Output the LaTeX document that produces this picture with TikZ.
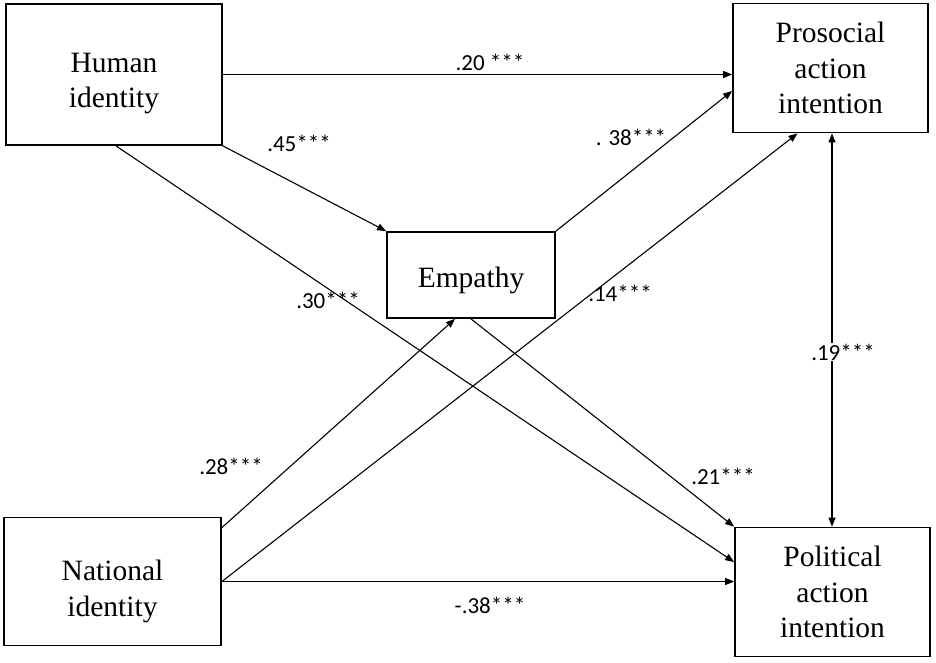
\documentclass[tikz,border=0pt]{standalone}
\usepackage{fontspec}
\setmainfont{Liberation Serif}
\newfontfamily\calibri{Carlito}
\usetikzlibrary{arrows.meta}

\begin{document}
\begin{tikzpicture}[x=1pt,y=-1pt,
        box/.style={shape=rectangle,draw=black,line width=1.8pt},
        boxtext/.style={align=center,font=\fontsize{29.5}{35.5}\selectfont},
        link/.style={line width=1.1pt,-{Triangle[length=9pt,width=7pt]}},
        coef/.style={font=\calibri\fontsize{23}{27}\selectfont,inner sep=1pt}]
        \useasboundingbox (0,0) rectangle (936,663);

        \node[box,minimum width=216pt,minimum height=141pt,
            label={[boxtext,yshift=-9pt]center:{Human\\identity}}] (H) at (114,74.5) {};
        \node[box,minimum width=168pt,minimum height=86pt,
            label={[boxtext,yshift=-5pt]center:{Empathy}}] (E) at (471,275) {};
        \node[box,minimum width=195pt,minimum height=129pt,
            label={[boxtext]center:{Prosocial\\action\\intention}}] (P) at (830.5,68) {};
        \node[box,minimum width=195pt,minimum height=129pt,
            label={[boxtext]center:{Political\\action\\intention}}] (Q) at (832.5,592) {};
        \node[box,minimum width=217pt,minimum height=128pt,
            label={[boxtext,yshift=-10pt]center:{National\\identity}}] (N) at (112.5,581.5) {};

        % paths from human identity
        \draw[link] (H) -- (H -| P.west);
        \draw[link] (H.south east) -- (E.north west);
        \draw[link] ([xshift=2pt]H.south) -- ([yshift=30pt]Q.west);

        % paths from empathy
        \draw[link] (E.north east) -- ([yshift=-23pt]P.west);
        \draw[link] (E.south) -- (Q.north west);

        % paths from national identity
        \draw[link] ([yshift=-11pt]N.north east) -- ([xshift=-16pt]E.south);
        \draw[link] (N.east) -- ([xshift=-33pt]P.south);
        \draw[link] (N.east) -- (N.east -| Q.west);

        % covariance
        \draw[link,{Triangle[length=9pt,width=7pt]}-{Triangle[length=9pt,width=7pt]}]
            ([xshift=1.5pt]P.south) -- ([xshift=1.5pt]P.south |- Q.north);

        \node[coef] (c1) at (490,62) {.20 ***};
        \node[coef] (c2) at (299,143) {.45***};
        \node[coef] (c3) at (631,137) {. 38***};
        \node[coef] (c4) at (328,300) {.30***};
        \node[coef] (c5) at (620,293) {.14***};
        \node[coef] (c6) at (231,466) {.28***};
        \node[coef] (c7) at (723,476) {.21***};
        \node[coef] (c8) at (490,605) {-.38***};
        \node[coef,fill=white] (c9) at (843,352) {.19***};
    \end{tikzpicture}
\end{document}
